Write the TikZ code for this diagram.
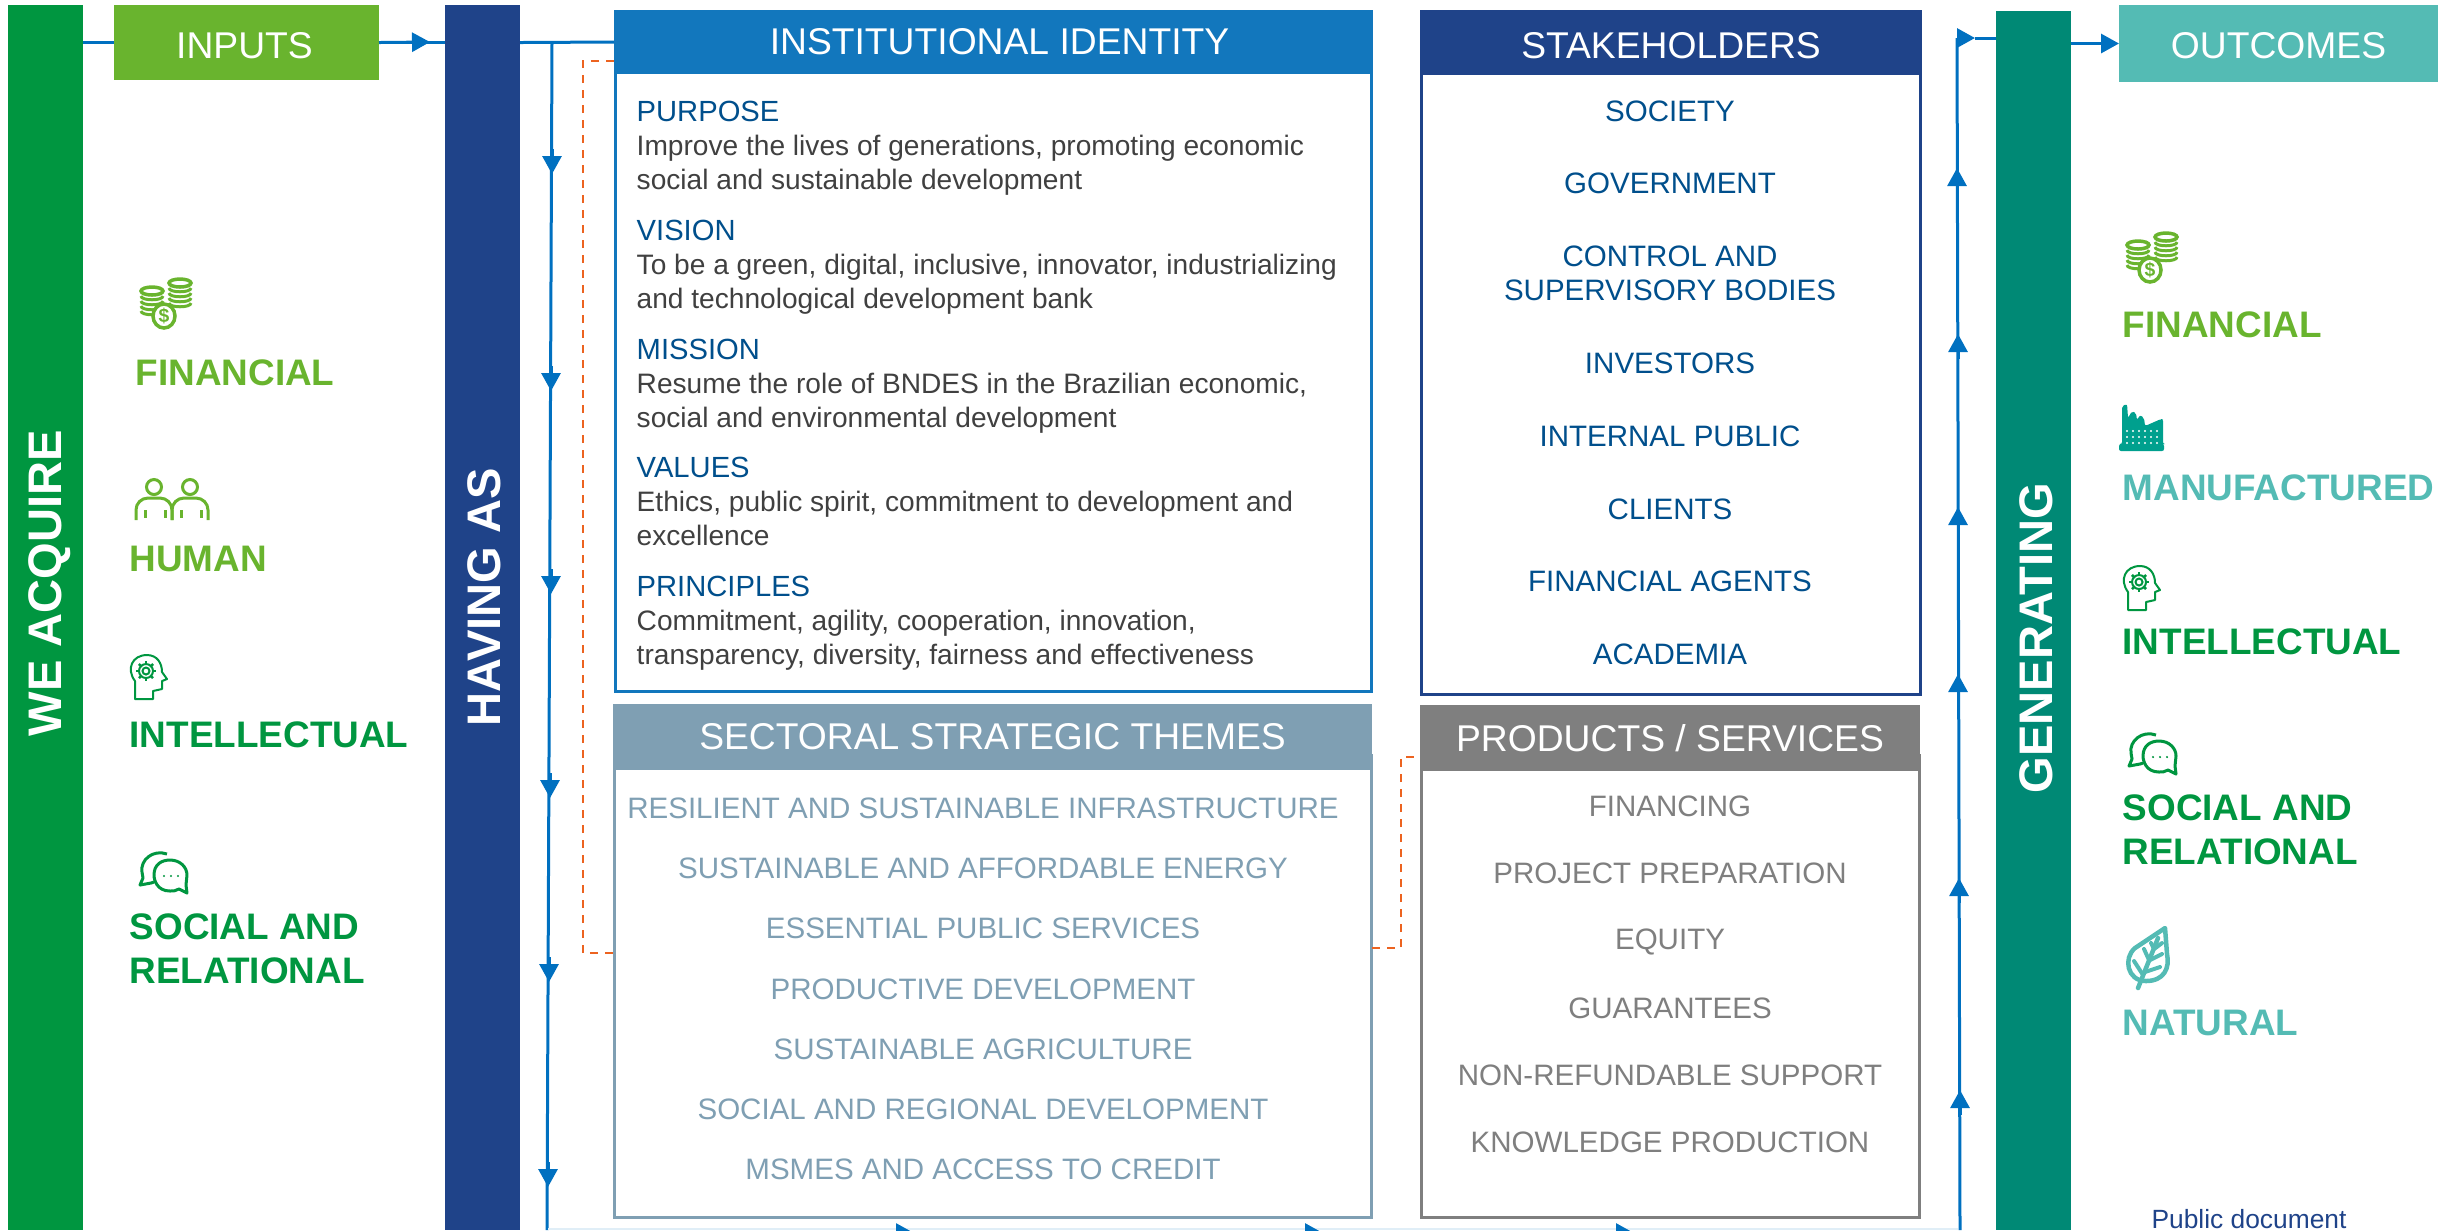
\documentclass[tikz,border=0pt]{standalone}
\usepackage{fontspec}
\setmainfont{Liberation Sans}
\usetikzlibrary{arrows.meta}
\definecolor{acquiregreen}{HTML}{009640}
\definecolor{inputgreen}{HTML}{69B42E}
\definecolor{havingblue}{HTML}{1F4389}
\definecolor{genteal}{HTML}{008975}
\definecolor{outteal}{HTML}{54BBB4}
\definecolor{flowblue}{HTML}{0070C0}
\definecolor{instblue}{HTML}{1277BD}
\definecolor{themegrey}{HTML}{7F9FB3}
\definecolor{prodgrey}{HTML}{7F7F7F}
\definecolor{stakeblue}{HTML}{004F8C}
\definecolor{bodygrey}{HTML}{404040}
\definecolor{dashorange}{HTML}{EC6320}
\definecolor{factoryteal}{HTML}{00A08E}
\tikzset{>=stealth,
  box/.style={inner sep=0pt,outer sep=0pt,anchor=north west},
  bar/.style={box,minimum width=7.5mm,minimum height=122.5mm},
  bartext/.style={rotate=90,text=white,font=\fontsize{13.4pt}{15pt}\selectfont\bfseries},
  tophead/.style={box,text=white,font=\fontsize{10.6pt}{12pt}\selectfont},
  frame/.style={line width=.3mm,fill=white},
  bodyhead/.style={anchor=west,inner sep=0pt,text=stakeblue,font=\fontsize{8.3pt}{9.7pt}\selectfont},
  bodytext/.style={anchor=north west,inner sep=0pt,align=left,text=bodygrey,font=\fontsize{8pt}{9.7pt}\selectfont},
  listitem/.style={inner sep=0pt,align=center,font=\fontsize{8.4pt}{9.7pt}\selectfont},
  capital/.style={anchor=north west,inner sep=0pt,align=left,font=\fontsize{10.5pt}{12.6pt}\selectfont\bfseries},
  flowline/.style={flowblue,line width=.3mm},
  flowarrow/.style={flowline,-{Triangle[length=1.8mm,width=1.9mm]}},
  linkdash/.style={dashorange,line width=.2mm,dash pattern=on .8mm off .7mm},
  pics/coins/.style={code={
    \foreach \cx/\cy in {14/16,42/8}{
      \foreach \k in {24,19,14,9}
        \draw[#1,line width=.3mm,fill=white] (\cx-11,\cy+\k-4) .. controls (\cx-11,\cy+\k+1) and (\cx+11,\cy+\k+1) .. (\cx+11,\cy+\k-4);
      \draw[#1,line width=.35mm,fill=white] (\cx,\cy) ellipse (11 and 4);
    }
    \draw[#1,line width=.35mm,fill=white] (26,41) ellipse (11 and 12);
    \node[text=#1,inner sep=0pt,font=\fontsize{5.5pt}{6pt}\selectfont\bfseries] (dollar) at (26,41) {\$};
  }},
  pics/people/.style={code={
    \foreach \hx in {19,55}
      \draw[inputgreen,line width=.3mm] (\hx,9) circle (7.5);
    \foreach \sx in {0,36}
      \draw[inputgreen,line width=.3mm,rounded corners=1.2mm] (\sx+1,42) -- (\sx+1,20) -- (\sx+37,20) -- (\sx+37,42);
    \foreach \ax in {10,30,46,66}
      \draw[inputgreen,line width=.3mm] (\ax,32) -- (\ax,40);
  }},
  pics/headgear/.style={code={
    \draw[acquiregreen,line width=.2mm,line join=round] (6,44) -- (6,26) .. controls (-3,14) and (3,0) .. (18,0)
      .. controls (28,0) and (33,8) .. (33,17) -- (38,24) -- (33,26) -- (33,34) -- (24,36) -- (24,44) -- cycle;
    \foreach \a in {0,45,...,315}
      \draw[acquiregreen,line width=.25mm] (17+6*cos \a,16+6*sin \a) -- (17+10*cos \a,16+10*sin \a);
    \draw[acquiregreen,line width=.2mm] (17,16) circle (7);
    \draw[acquiregreen,line width=.2mm] (17,16) circle (3.5);
  }},
  pics/chat/.style={code={
    \draw[acquiregreen,line width=.3mm,line join=round] (27,2) .. controls (13,-3) and (0,8) .. (2,20) -- (3,26) -- (0,33) -- (11,31) -- (14,30);
    \draw[acquiregreen,line width=.3mm,fill=white,line join=round] (30,39) .. controls (17,39) and (14,28) .. (14,23)
      .. controls (14,12) and (22,8) .. (30,8) .. controls (40,8) and (47,15) .. (47,23) -- (46,33) -- (47,41) -- (39,37) .. controls (36,39) and (33,39) .. (30,39) -- cycle;
    \foreach \dx in {24,31,38}
      \fill[acquiregreen] (\dx,24) circle (1.2);
  }},
  pics/factory/.style={code={
    \fill[factoryteal,rounded corners=.2mm] (0,47) -- (0,40) -- (3,40) -- (3,2) -- (8,0) -- (9,14) -- (13,7) -- (17,9) -- (18,16) -- (21,11) -- (25,14) -- (26,22) -- (42,15) -- (44,15) -- (44,40) -- (45,40) -- (45,47) -- cycle;
    \foreach \py in {27,33,39}
      \foreach \px in {8,14,...,38}
        \fill[white] (\px,\py) circle (1.1);
  }},
  pics/leaf/.style={code={
    \draw[outteal,line width=.45mm,line join=round] (39,2) -- (9,22) .. controls (-3,32) and (1,55) .. (20,55) .. controls (38,55) and (44,42) .. (41,28) -- cycle;
    \draw[outteal,line width=.45mm,line cap=round] (12,62) -- (32,12);
    \draw[outteal,line width=.4mm,line cap=round] (17,49) -- (8,35) (23,34) -- (18,23) (28,23) -- (25,17) (19,46) -- (34,41) (24,34) -- (36,28) (28,23) -- (36,17);
  }}
}
\begin{document}
\begin{tikzpicture}[x=0.1mm,y=-0.1mm]
    \useasboundingbox (0,0) rectangle (2458,1230);

    \node[bar,fill=acquiregreen] (acquire) at (8,5) {};
    \node[bar,fill=havingblue] (having) at (445,5) {};
    \node[bar,fill=genteal,minimum height=121.9mm] (generating) at (1996,11) {};
    \node[bartext] (acquirelab) at (50,583) {WE ACQUIRE};
    \node[bartext] (havinglab) at (484,597) {HAVING AS};
    \node[bartext] (generatinglab) at (2036,638) {GENERATING};

    \node[tophead,fill=inputgreen,minimum width=26.5mm,minimum height=7.5mm,text height=3.2mm] (inputs) at (114,5) {INPUTS\hspace*{.4mm}};
    \node[tophead,fill=outteal,minimum width=31.9mm,minimum height=7.7mm,text height=3mm] (outcomes) at (2119,5) {OUTCOMES};

    \coordinate (inputtip) at (430,42);
    \coordinate (downtop) at (552,42);
    \coordinate (downbot) at (547,1230);
    \coordinate (uptop) at (1957,38);
    \coordinate (upbot) at (1960,1230);
    \coordinate (righttip) at (1975,38);

    \draw[flowline] (acquire.east |- inputs.west) -- (inputs.west);
    \draw[flowline] (inputs.east) -- (inputs.east -| having.west);
    \draw[flowarrow] (inputs.east) -- (inputtip);
    \draw[flowline] (having.east |- inputs.east) -- (614,42);
    \draw[flowline] (downtop) -- (downbot);
    \foreach \x/\y in {552/174,551/391,551/594,550/798,549/982,548/1187}
        \draw[flowarrow] (\x,\y-25) -- (\x,\y);

    \draw[flowblue!12,line width=.2mm] (548,1229) -- (1958,1229);
    \foreach \x in {914,1323,1634}
        \draw[flowarrow] (\x-25,1233) -- (\x,1233);

    \draw[flowline] (upbot) -- (uptop);
    \foreach \x/\y in {1957/168,1958/334,1958/507,1958/674,1959/878,1960/1090}
        \draw[flowarrow] (\x,\y+25) -- (\x,\y);
    \draw[flowarrow] (uptop) -- (righttip);
    \draw[flowline] (righttip) -- (generating.west |- righttip);
    \draw[flowarrow] (generating.east |- outcomes.west) -- (outcomes.west);

    \draw[frame,draw=instblue] (615,60) rectangle (1371,691);
    \node[tophead,fill=instblue,minimum width=75.9mm,minimum height=6.4mm] (insthead) at (614,10) {\hspace*{1.2mm}INSTITUTIONAL IDENTITY};
    \draw[frame,draw=havingblue] (1421,60) rectangle (1920,694);
    \node[tophead,fill=havingblue,minimum width=50.2mm,minimum height=6.5mm,text height=3.2mm] (stakehead) at (1420,10) {STAKEHOLDERS};
    \draw[frame,draw=themegrey] (614,755) rectangle (1371,1217);
    \node[tophead,fill=themegrey,minimum width=75.9mm,minimum height=6.6mm] (themehead) at (613,704) {SECTORAL STRATEGIC THEMES};
    \draw[frame,draw=prodgrey] (1421,755) rectangle (1919,1217);
    \node[tophead,fill=prodgrey,minimum width=50mm,minimum height=6.6mm] (prodhead) at (1420,705) {PRODUCTS / SERVICES};

    \coordinate (dashone) at (614,61);
    \coordinate (dashtwo) at (613,953);
    \coordinate (dashthree) at (1372,948);
    \coordinate (dashfour) at (1420,757);
    \draw[linkdash] (dashone) -- (583,61) -- (583,953) -- (dashtwo);
    \draw[linkdash] (dashthree) -- (1401,948) -- (1401,757) -- (dashfour);

    \node[bodyhead] (purpose) at (636,111) {PURPOSE};
    \node[bodytext] (purposetext) at (636,134) {Improve the lives of generations, promoting economic\\social and sustainable development};
    \node[bodyhead] (vision) at (636,230) {VISION};
    \node[bodytext] (visiontext) at (636,253) {To be a green, digital, inclusive, innovator, industrializing\\and technological development bank};
    \node[bodyhead] (mission) at (636,349) {MISSION};
    \node[bodytext] (missiontext) at (636,372) {Resume the role of BNDES in the Brazilian economic,\\social and environmental development};
    \node[bodyhead] (values) at (636,467) {VALUES};
    \node[bodytext] (valuestext) at (636,490) {Ethics, public spirit, commitment to development and\\excellence};
    \node[bodyhead] (principles) at (636,586) {PRINCIPLES};
    \node[bodytext] (principlestext) at (636,609) {Commitment, agility, cooperation, innovation,\\transparency, diversity, fairness and effectiveness};

    \foreach \y/\lab [count=\i] in {111/SOCIETY,183/GOVERNMENT,273/{CONTROL AND\\SUPERVISORY BODIES},363/INVESTORS,436/INTERNAL PUBLIC,509/CLIENTS,581/FINANCIAL AGENTS,654/ACADEMIA}
        \node[listitem,text=stakeblue] (stake\i) at (1670,\y) {\lab};

    \foreach \y/\lab [count=\i] in {808/RESILIENT AND SUSTAINABLE INFRASTRUCTURE,868/SUSTAINABLE AND AFFORDABLE ENERGY,928/ESSENTIAL PUBLIC SERVICES,989/PRODUCTIVE DEVELOPMENT,1049/SUSTAINABLE AGRICULTURE,1109/SOCIAL AND REGIONAL DEVELOPMENT,1169/MSMES AND ACCESS TO CREDIT}
        \node[listitem,text=themegrey] (theme\i) at (983,\y) {\lab};

    \foreach \y/\lab [count=\i] in {806/FINANCING,873/PROJECT PREPARATION,942/EQUITY,1008/GUARANTEES,1075/NON-REFUNDABLE SUPPORT,1142/KNOWLEDGE PRODUCTION}
        \node[listitem,text=prodgrey] (prod\i) at (1670,\y) {\lab};

    \pic at (138,275) {coins=inputgreen};
    \node[capital,text=inputgreen] (infin) at (135,359) {FINANCIAL};
    \pic at (135,478) {people};
    \node[capital,text=inputgreen] (inhum) at (129,545) {HUMAN};
    \pic at (129,655) {headgear};
    \node[capital,text=acquiregreen] (inint) at (129,721) {INTELLECTUAL};
    \pic at (140,852) {chat};
    \node[capital,text=acquiregreen] (insoc) at (129,913) {SOCIAL AND\\RELATIONAL};

    \pic at (2124,229) {coins=inputgreen};
    \node[capital,text=inputgreen] (outfin) at (2122,311) {FINANCIAL};
    \pic at (2119,404) {factory};
    \node[capital,text=outteal] (outman) at (2122,474) {MANUFACTURED};
    \pic at (2122,566) {headgear};
    \node[capital,text=acquiregreen] (outint) at (2122,628) {INTELLECTUAL};
    \pic at (2129,733) {chat};
    \node[capital,text=acquiregreen] (outsoc) at (2122,794) {SOCIAL AND\\RELATIONAL};
    \pic at (2126,926) {leaf};
    \node[capital,text=outteal] (outnat) at (2122,1009) {NATURAL};

    \node[inner sep=0pt,text=havingblue,font=\fontsize{7.5pt}{9pt}\selectfont] (public) at (2249,1219) {Public document};
\end{tikzpicture}
\end{document}
